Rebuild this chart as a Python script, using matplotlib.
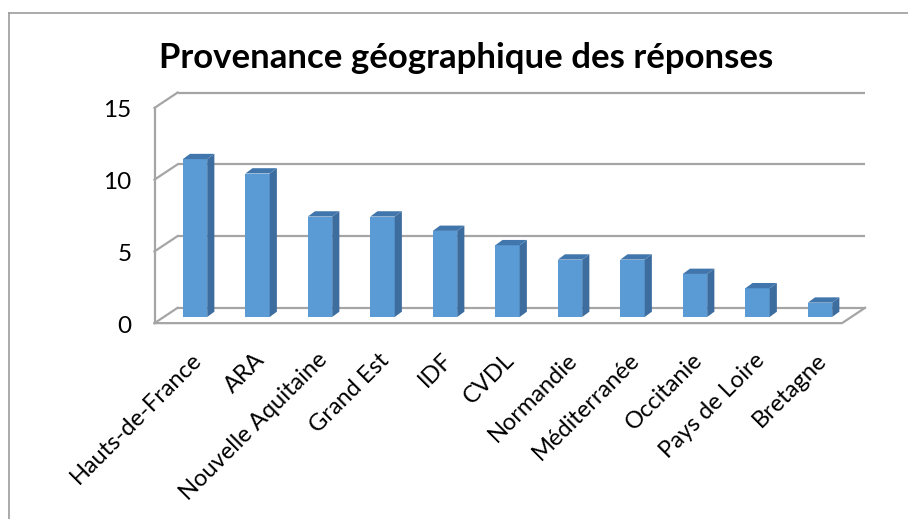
import matplotlib
matplotlib.use("Agg")
import matplotlib.pyplot as plt
from matplotlib.patches import Polygon
from matplotlib.lines import Line2D

# --- Data ---
regions = ["Hauts-de-France", "ARA", "Nouvelle Aquitaine", "Grand Est", "IDF",
           "CVDL", "Normandie", "Méditerranée", "Occitanie", "Pays de Loire", "Bretagne"]
counts = [11, 10, 7, 7, 6, 5, 4, 4, 3, 2, 1]
y_ticks = [0, 5, 10, 15]
title = "Provenance géographique des réponses"

plt.rcParams['font.family'] = ['Lato', 'DejaVu Sans']

W, H = 908, 519
fig = plt.figure(figsize=(W / 100, H / 100), dpi=100)

# pixel layout of the plot (bar plane): x = 195 + 62.5*i, y = 317 - 14.35*v
px_cat, px_val = 62.5, 14.35
x0, y0 = 195, 317
ax = fig.add_axes([0, 0, 1, 1])
ax.set_xlim(-x0 / px_cat, (W - x0) / px_cat)
ax.set_ylim((y0 - H) / px_val, y0 / px_val)
ax.axis("off")

# 3D geometry (data units)
dx, dy = 0.37, 1.07          # full depth of the floor
f_front = 0.4                # bars sit at this fraction of the depth
left, right = -0.5, len(counts) - 0.5
wall_left, wall_right = left - f_front * dx, right - f_front * dx
bw = 0.39                    # bar width
bdx, bdy = 0.115, 0.37       # bar depth

grid_col = "#a5a5a5"
lw = 1.6
back_x0 = wall_left + dx
back_x1 = wall_right + dx
off = -f_front * dy

# back wall gridlines + side wall diagonals
for t in y_ticks:
    ax.plot([back_x0, back_x1], [t + off + dy, t + off + dy], color=grid_col, lw=lw,
            solid_capstyle="butt", zorder=1)
    ax.plot([wall_left, back_x0], [t + off, t + off + dy], color=grid_col, lw=lw, zorder=1)
# side wall front edge
ax.plot([wall_left, wall_left], [off, y_ticks[-1] + off], color=grid_col, lw=lw, zorder=1)
# floor front edge and right edge
ax.plot([wall_left, wall_right, back_x1], [off, off, off + dy], color=grid_col, lw=lw,
        zorder=1)

# bars
for i, v in enumerate(counts):
    xl, xr = i - bw / 2, i + bw / 2
    front = Polygon([(xl, 0), (xr, 0), (xr, v), (xl, v)], closed=True,
                    facecolor="#5b9bd5", edgecolor="none", zorder=3)
    side = Polygon([(xr, 0), (xr + bdx, bdy), (xr + bdx, v + bdy), (xr, v)], closed=True,
                   facecolor="#3d6d9e", edgecolor="none", zorder=3)
    top = Polygon([(xl, v), (xr, v), (xr + bdx, v + bdy), (xl + bdx, v + bdy)], closed=True,
                  facecolor="#4176ad", edgecolor="none", zorder=3)
    for p in (front, side, top):
        ax.add_patch(p)

# y tick labels
for t in y_ticks:
    ax.text(wall_left - 0.37, t + off - 0.2, str(t), ha="right", va="center",
            fontsize=17.5, color="#000000")

# category labels
for i, name in enumerate(regions):
    ax.text(i - 0.06, -2.25, name, rotation=45, rotation_mode="anchor",
            ha="right", va="top", fontsize=17, color="#000000")

fig.text(0.513, 1 - 68 / H, title, ha="center", va="baseline", fontsize=25,
         fontweight="bold", color="#000000")

# chart border (only top and left visible)
bc = "#9c9c9c"
fig.add_artist(Line2D([9 / W, 9 / W], [0, 1 - 13 / H], color=bc, lw=1.2,
                      transform=fig.transFigure))
fig.add_artist(Line2D([9 / W, 1], [1 - 13 / H, 1 - 13 / H], color=bc, lw=1.2,
                      transform=fig.transFigure))

fig.savefig("out.png", dpi=100, facecolor="white")
